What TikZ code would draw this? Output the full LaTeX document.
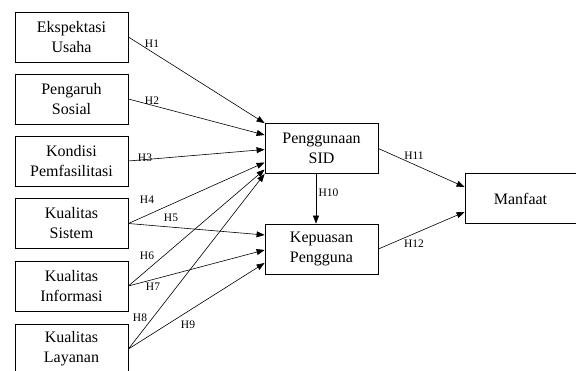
\documentclass[tikz,border=0pt]{standalone}
\usepackage{fontspec}
\setmainfont{Liberation Serif}
\usepackage{tikz}
\usetikzlibrary{arrows.meta}
\usetikzlibrary{calc}
\tikzstyle{var}=[draw,rectangle,line width=0.8pt,minimum width=113pt,minimum height=50pt,align=center,inner sep=1pt,font=\fontsize{16}{20}\selectfont]
\tikzstyle{hyp}=[font=\fontsize{11.5}{12}\selectfont,inner sep=0pt]

\begin{document}
\begin{tikzpicture}[
  x=1pt,y=-1pt,
  path/.style={line width=0.6pt,-{Triangle[length=8pt,width=6pt]}},
]
  \useasboundingbox (0,0) rectangle (576,371);
  % independent variables
  \node[var] (eu) at (71.5,37)    {Ekspektasi\\Usaha};
  \node[var] (ps) at (71.5,99)    {Pengaruh\\Sosial};
  \node[var] (kf) at (71.5,161)   {Kondisi\\Pemfasilitasi};
  \node[var] (ks) at (71.5,223.5) {Kualitas\\Sistem};
  \node[var] (ki) at (71.5,286)   {Kualitas\\Informasi};
  \node[var] (kl) at (71.5,349)   {Kualitas\\Layanan};
  % mediators and outcome
  \node[var] (pg) at (321.5,148.5) {Penggunaan\\SID};
  \node[var] (kp) at (321.5,249)   {Kepuasan\\Pengguna};
  \node[var,minimum width=111pt] (mf) at (520.5,198.5) {Manfaat};

  \draw[path] (eu.east) -- (pg.north west);
  \draw[path] (ps.east) -- ($(pg.west)+(0,-13.5)$);
  \draw[path] (kf.east) -- ($(pg.west)+(0,1)$);
  \draw[path] (ks.east) -- ($(pg.west)+(0,14)$);
  \draw[path] (ks.east) -- ($(kp.west)+(0,-14)$);
  \draw[path] (ki.east) -- ($(pg.west)+(0,21)$);
  \draw[path] (ki.east) -- ($(kp.west)+(0,1)$);
  \draw[path] (kl.east) -- (pg.south west);
  \draw[path] (kl.east) -- ($(kp.west)+(0,14)$);
  \draw[path] ($(pg.south)+(-5.5,0)$) -- ($(kp.north)+(-5.5,0)$);
  \draw[path] (pg.east) -- ($(mf.west)+(0,-11.5)$);
  \draw[path] (kp.east) -- ($(mf.west)+(0,13.5)$);

  % hypothesis labels
  \node[hyp] (h1)  at (152,44)  {H1};
  \node[hyp] (h2)  at (152,101) {H2};
  \node[hyp] (h3)  at (145,158) {H3};
  \node[hyp] (h4)  at (147,200) {H4};
  \node[hyp] (h5)  at (171,218) {H5};
  \node[hyp] (h6)  at (147,256) {H6};
  \node[hyp] (h7)  at (153,287) {H7};
  \node[hyp] (h8)  at (140,318) {H8};
  \node[hyp] (h9)  at (188,325) {H9};
  \node[hyp] (h10) at (328.5,193) {H10};
  \node[hyp] (h11) at (414,156) {H11};
  \node[hyp] (h12) at (414,244) {H12};
\end{tikzpicture}
\end{document}
